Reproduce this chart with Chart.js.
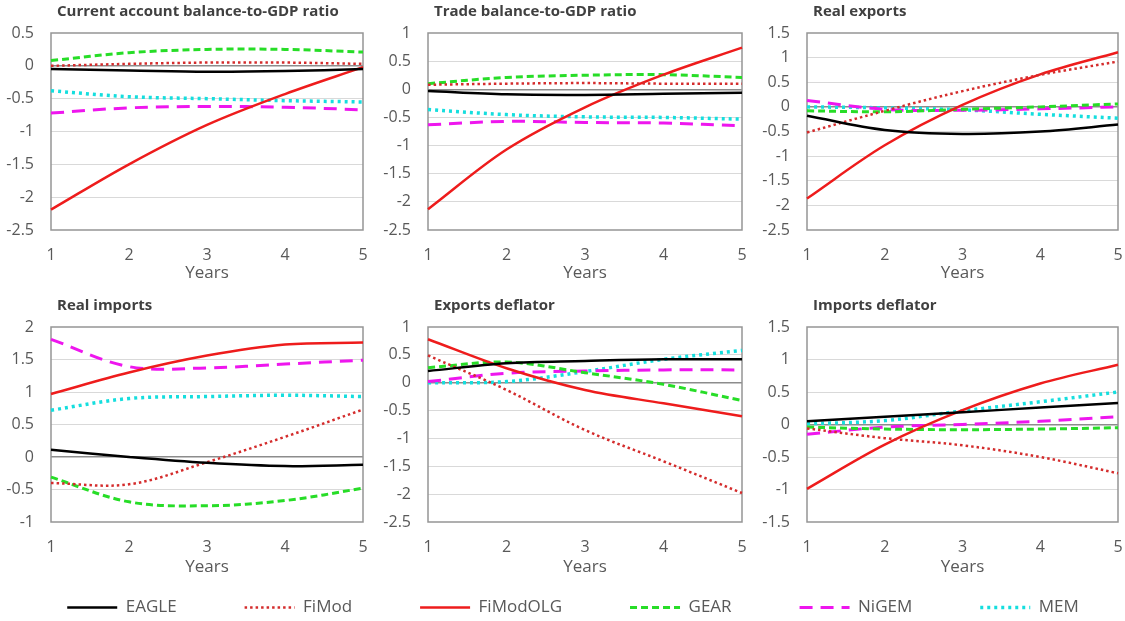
<!DOCTYPE html>
<html>
<head>
<meta charset="utf-8">
<script src="https://cdn.jsdelivr.net/npm/chart.js@4.4.1/dist/chart.umd.min.js"></script>
<style>
  html, body { margin: 0; padding: 0; background: #fff; }
  #page { position: relative; width: 1125px; height: 621px; overflow: hidden; }
  #page canvas { position: absolute; }
</style>
</head>
<body>
<div id="page"></div>
<script>
// Données
const YEARS = ['1', '2', '3', '4', '5'];
const MODELS = ['EAGLE', 'FiMod', 'FiModOLG', 'GEAR', 'NiGEM', 'MEM'];

// une ligne par modèle, dans l'ordre de MODELS
const CURRENT_ACCOUNT = [
  [-0.05, -0.07, -0.09, -0.08, -0.05],
  [0.0, 0.03, 0.05, 0.05, 0.03],
  [-2.19, -1.5, -0.9, -0.43, -0.02],
  [0.08, 0.2, 0.25, 0.25, 0.21],
  [-0.72, -0.64, -0.62, -0.63, -0.67],
  [-0.38, -0.47, -0.5, -0.53, -0.55]
];
const TRADE_BALANCE = [
  [-0.03, -0.09, -0.1, -0.08, -0.06],
  [0.08, 0.1, 0.11, 0.1, 0.1],
  [-2.13, -1.07, -0.32, 0.26, 0.74],
  [0.1, 0.21, 0.25, 0.26, 0.21],
  [-0.63, -0.57, -0.59, -0.6, -0.65],
  [-0.36, -0.45, -0.49, -0.5, -0.53]
];
const REAL_EXPORTS = [
  [-0.18, -0.47, -0.55, -0.5, -0.36],
  [-0.52, -0.08, 0.32, 0.65, 0.92],
  [-1.86, -0.78, 0.04, 0.66, 1.11],
  [-0.08, -0.1, -0.05, 0.0, 0.06],
  [0.13, -0.05, -0.07, -0.04, 0.0],
  [0.0, -0.02, -0.06, -0.15, -0.23]
];
const REAL_IMPORTS = [
  [0.11, 0.0, -0.09, -0.14, -0.12],
  [-0.4, -0.42, -0.08, 0.31, 0.73],
  [0.97, 1.3, 1.56, 1.73, 1.76],
  [-0.31, -0.69, -0.75, -0.67, -0.48],
  [1.81, 1.39, 1.37, 1.43, 1.49],
  [0.72, 0.9, 0.93, 0.95, 0.93]
];
const EXPORTS_DEFLATOR = [
  [0.21, 0.35, 0.39, 0.42, 0.42],
  [0.49, -0.13, -0.85, -1.41, -1.98],
  [0.78, 0.26, -0.13, -0.37, -0.6],
  [0.27, 0.37, 0.18, -0.03, -0.32],
  [0.02, 0.17, 0.21, 0.23, 0.23],
  [0.0, 0.02, 0.2, 0.42, 0.58]
];
const IMPORTS_DEFLATOR = [
  [0.05, 0.12, 0.19, 0.26, 0.33],
  [-0.06, -0.21, -0.32, -0.5, -0.75],
  [-0.99, -0.31, 0.22, 0.63, 0.92],
  [-0.04, -0.07, -0.08, -0.07, -0.05],
  [-0.15, -0.04, 0.0, 0.05, 0.12],
  [0.01, 0.06, 0.21, 0.35, 0.5]
];

const TITLES = [
  'Current account balance-to-GDP ratio', 'Trade balance-to-GDP ratio', 'Real exports',
  'Real imports', 'Exports deflator', 'Imports deflator'
];
const SERIES = [CURRENT_ACCOUNT, TRADE_BALANCE, REAL_EXPORTS, REAL_IMPORTS, EXPORTS_DEFLATOR, IMPORTS_DEFLATOR];
const Y_MIN = [-2.5, -2.5, -2.5, -1, -2.5, -1.5];
const Y_MAX = [0.5, 1, 1.5, 2, 1, 1.5];
const X_TITLE = 'Years';

// Styles
const LINE_STYLES = {
  EAGLE:    { color: '#000000', width: 2.5, dash: [] },
  FiMod:    { color: '#d42c2c', width: 2.5, dash: [2.5, 3] },
  FiModOLG: { color: '#ee1c1c', width: 2.5, dash: [] },
  GEAR:     { color: '#27dd27', width: 3,   dash: [7, 4] },
  NiGEM:    { color: '#ee16ee', width: 3,   dash: [13, 8] },
  MEM:      { color: '#15dede', width: 3.5, dash: [3, 4] }
};
const TEXT_GREY = '#595959';
const FONT = '"Open Sans", sans-serif';

// Mise en page : zone de tracé de chaque panneau [gauche, haut, droite, bas]
const PLOT_BOXES = [
  [51, 33, 363, 230], [428, 33, 742, 230], [807, 33, 1118, 230],
  [51, 327, 363, 522], [428, 327, 742, 522], [807, 327, 1118, 522]
];
const AXIS_W = 51, TOP_PAD = 33, RIGHT_PAD = 26, CANVAS_H = 285;

Chart.defaults.font.family = FONT;

// Titre de panneau dessiné au-dessus de la zone de tracé
const panelTitle = {
  id: 'panelTitle',
  afterDraw(chart, args, opts) {
    const { ctx, chartArea } = chart;
    ctx.save();
    ctx.font = `bold 15px ${FONT}`;
    ctx.fillStyle = '#404040';
    ctx.textBaseline = 'alphabetic';
    ctx.fillText(opts.text, chartArea.left + 6, chartArea.top - 17);
    ctx.restore();
  }
};

// Cadre gris autour de la zone de tracé
const plotFrame = {
  id: 'plotFrame',
  beforeDatasetsDraw(chart) {
    const { ctx, chartArea: a } = chart;
    ctx.save();
    ctx.strokeStyle = '#959595';
    ctx.lineWidth = 1.5;
    ctx.strokeRect(a.left, a.top, a.right - a.left, a.bottom - a.top);
    ctx.restore();
  }
};

const page = document.getElementById('page');

function makeDataset(model, values) {
  const s = LINE_STYLES[model];
  return {
    label: model,
    data: values,
    borderColor: s.color,
    backgroundColor: s.color,
    borderWidth: s.width,
    borderDash: s.dash,
    borderCapStyle: 'butt',
    pointRadius: 0,
    tension: 0.35,
    fill: false
  };
}

function addCanvas(left, top, w, h) {
  const canvas = document.createElement('canvas');
  canvas.width = w;
  canvas.height = h;
  canvas.style.left = left + 'px';
  canvas.style.top = top + 'px';
  canvas.style.width = w + 'px';
  canvas.style.height = h + 'px';
  page.appendChild(canvas);
  return canvas;
}

function makePanel(i) {
  const [l, t, r, b] = PLOT_BOXES[i];
  const canvas = addCanvas(l - AXIS_W, t - TOP_PAD, r - l + AXIS_W + RIGHT_PAD, CANVAS_H);
  const xHeight = CANVAS_H - TOP_PAD - (b - t);
  const yMin = Y_MIN[i], yMax = Y_MAX[i];

  new Chart(canvas, {
    type: 'line',
    data: {
      labels: YEARS,
      datasets: MODELS.map((m, k) => makeDataset(m, SERIES[i][k]))
    },
    options: {
      responsive: false,
      animation: false,
      layout: { padding: { top: TOP_PAD, right: RIGHT_PAD, left: 0, bottom: 0 } },
      plugins: {
        legend: { display: false },
        tooltip: { enabled: false },
        panelTitle: { text: TITLES[i] }
      },
      scales: {
        x: {
          offset: false,
          grid: { display: false, drawTicks: false },
          border: { display: false },
          ticks: { color: TEXT_GREY, font: { size: 16 }, padding: 16, maxRotation: 0, autoSkip: false },
          title: { display: true, text: X_TITLE, color: TEXT_GREY, font: { size: 17 }, padding: { top: 0, bottom: 2 } },
          afterFit: (s) => { s.height = xHeight; }
        },
        y: {
          min: yMin,
          max: yMax,
          border: { display: false },
          grid: {
            drawTicks: false,
            color: (c) => {
              const v = c.tick.value;
              if (Math.abs(v) < 1e-9) return '#8c8c8c';
              if (Math.abs(v - yMin) < 1e-9 || Math.abs(v - yMax) < 1e-9) return 'rgba(0,0,0,0)';
              return '#d9d9d9';
            },
            lineWidth: (c) => (Math.abs(c.tick.value) < 1e-9 ? 1.5 : 1)
          },
          ticks: {
            stepSize: 0.5,
            color: TEXT_GREY,
            font: { size: 16 },
            padding: 17,
            callback: (v) => String(Math.round(v * 10) / 10)
          },
          afterFit: (s) => { s.width = AXIS_W; }
        }
      }
    },
    plugins: [panelTitle, plotFrame]
  });
}

for (let i = 0; i < 6; i++) makePanel(i);

// Légende commune en bas (canvas plus large que la page pour tenir sur une ligne)
const LEGEND_Y = 607, LEGEND_PAD = 68, LEGEND_FONT = 17, LEGEND_W = 1300, LEGEND_CENTER = 573;
const legendCanvas = addCanvas(LEGEND_CENTER - LEGEND_W / 2,
  Math.round(LEGEND_Y - LEGEND_PAD - LEGEND_FONT / 2), LEGEND_W, 300);

new Chart(legendCanvas, {
  type: 'line',
  data: { labels: [], datasets: MODELS.map(m => makeDataset(m, [])) },
  options: {
    responsive: false,
    animation: false,
    scales: { x: { display: false }, y: { display: false } },
    plugins: {
      tooltip: { enabled: false },
      legend: {
        display: true,
        position: 'top',
        onClick: null,
        labels: {
          usePointStyle: true,
          pointStyle: 'line',
          pointStyleWidth: 50,
          color: TEXT_GREY,
          font: { size: LEGEND_FONT },
          padding: LEGEND_PAD,
          generateLabels: (chart) => chart.data.datasets.map((ds, k) => ({
            text: ds.label,
            strokeStyle: ds.borderColor,
            fillStyle: ds.borderColor,
            lineWidth: ds.borderWidth,
            lineDash: ds.borderDash,
            lineCap: 'butt',
            pointStyle: 'line',
            fontColor: TEXT_GREY,
            hidden: false,
            datasetIndex: k
          }))
        }
      }
    }
  }
});
</script>
</body>
</html>
